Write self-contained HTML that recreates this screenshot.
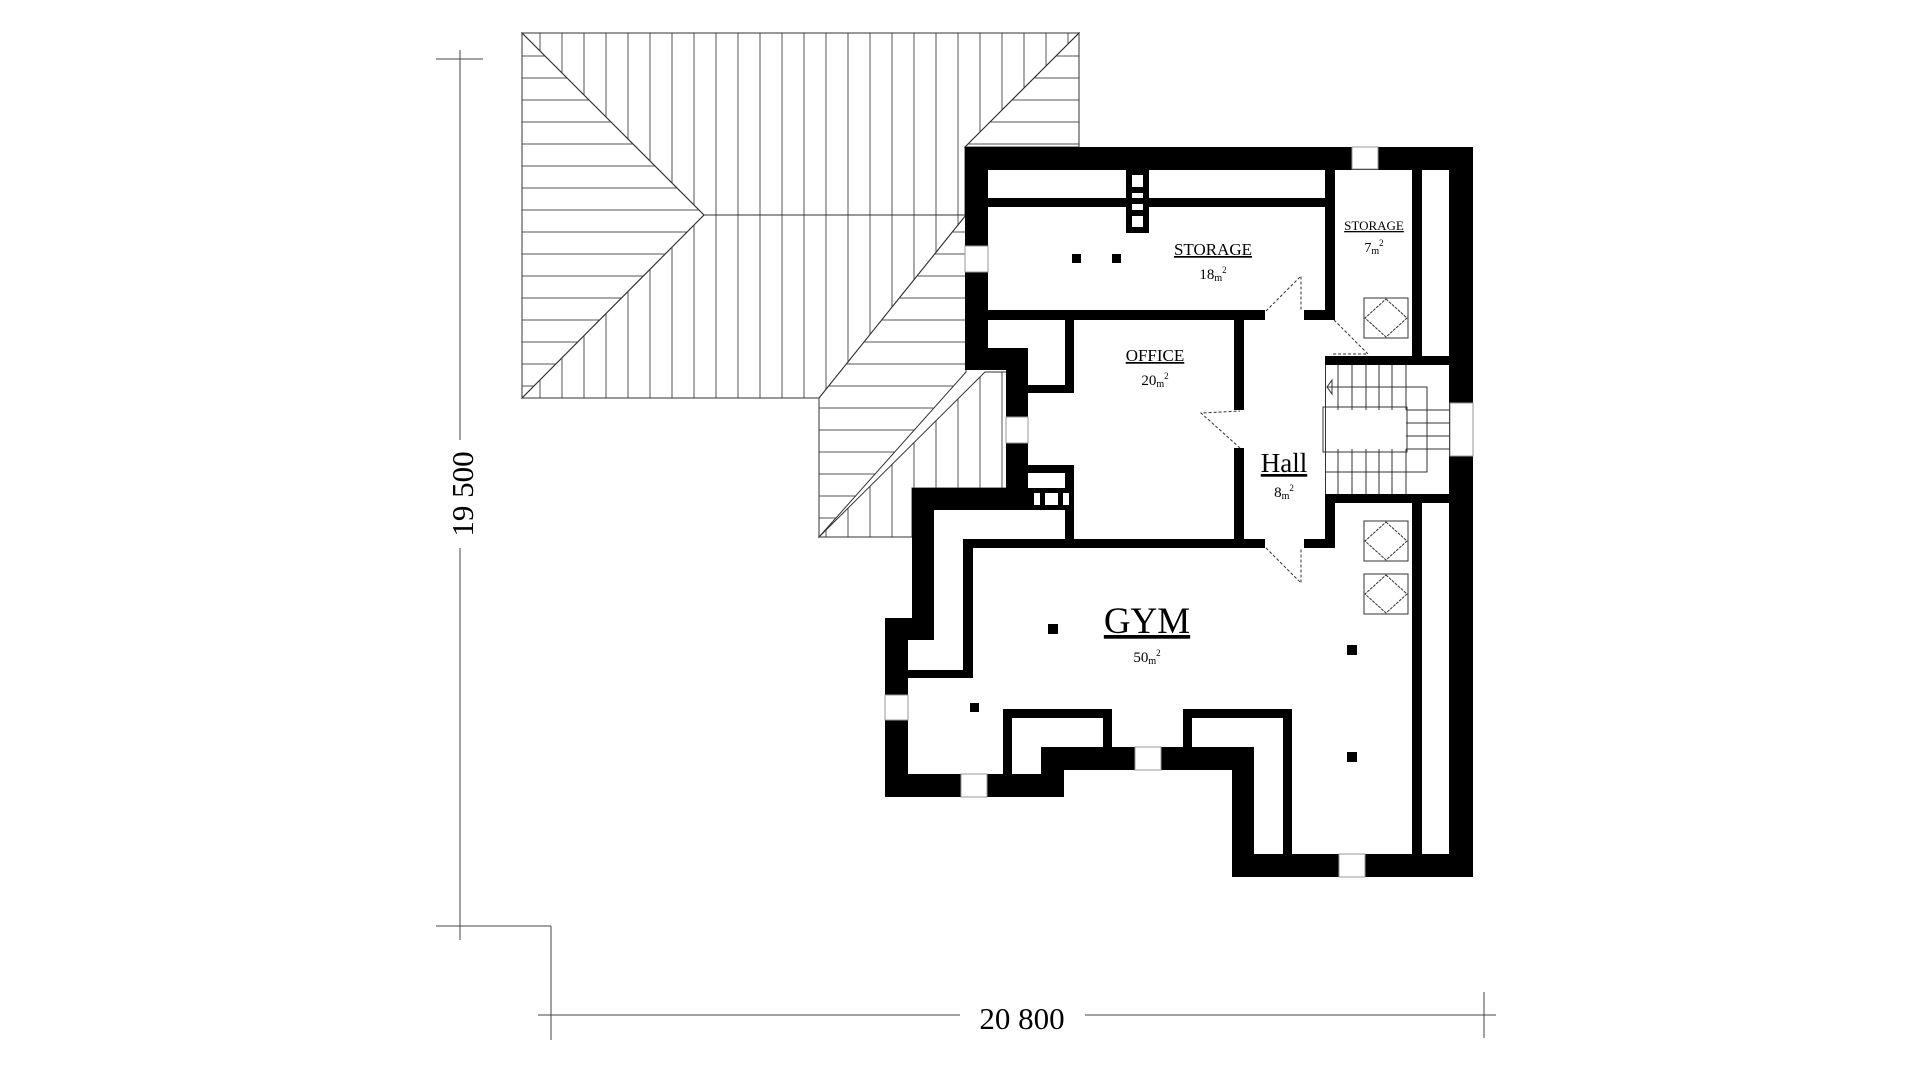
<!DOCTYPE html>
<html><head><meta charset="utf-8"><style>
html,body{margin:0;padding:0;background:#fff;}
svg{display:block;}
text{font-family:"Liberation Serif",serif;fill:#000;}
</style></head><body>
<svg width="1920" height="1080" viewBox="0 0 1920 1080" xmlns="http://www.w3.org/2000/svg">
<defs>
<pattern id="vh" width="22" height="22" patternUnits="userSpaceOnUse" x="1" y="0"><line x1="11" y1="0" x2="11" y2="22" stroke="#555" stroke-width="1"/></pattern>
<pattern id="hh" width="22" height="22" patternUnits="userSpaceOnUse" x="0" y="1"><line x1="0" y1="11" x2="22" y2="11" stroke="#555" stroke-width="1"/></pattern>
</defs>
<g stroke="#333" stroke-width="1">
<polygon points="522,33 1079,33 965,147 965,215 704,215" fill="url(#vh)"/>
<polygon points="1079,33 1079,147 965,147" fill="url(#hh)"/>
<polygon points="522,33 704,215 522,398" fill="url(#hh)"/>
<polygon points="704,215 966,215 819,398 522,398" fill="url(#vh)"/>
<polygon points="966,215 966,372 819,537 819,398" fill="url(#hh)"/>
<polygon points="985,372 1007,372 1007,488 912,488 912,537 819,537" fill="url(#vh)"/>
</g>
<g stroke="#444" stroke-width="1" fill="none">
<line x1="460" y1="50" x2="460" y2="440"/>
<line x1="460" y1="548" x2="460" y2="940"/>
<line x1="436" y1="59" x2="483" y2="59"/>
<line x1="436" y1="926" x2="551" y2="926"/>
<line x1="551" y1="926" x2="551" y2="1040"/>
<line x1="538" y1="1015" x2="960" y2="1015"/>
<line x1="1085" y1="1015" x2="1496" y2="1015"/>
<line x1="1484" y1="992" x2="1484" y2="1038"/>
</g>
<text x="0" y="0" font-size="31" text-anchor="middle" transform="translate(473,494) rotate(-90)">19 500</text>
<text x="1022" y="1029" font-size="31" text-anchor="middle">20 800</text>
<g fill="#000">
<rect x="965" y="147" width="508" height="23"/>
<rect x="965" y="147" width="23" height="223"/>
<rect x="965" y="348" width="63" height="22"/>
<rect x="1006" y="348" width="22" height="162"/>
<rect x="912" y="488" width="162" height="22"/>
<rect x="912" y="488" width="22" height="152"/>
<rect x="885" y="618" width="49" height="22"/>
<rect x="885" y="618" width="23" height="179"/>
<rect x="885" y="774" width="179" height="23"/>
<rect x="1041" y="747" width="213" height="23"/>
<rect x="1041" y="747" width="23" height="50"/>
<rect x="1232" y="747" width="22" height="130"/>
<rect x="1232" y="854" width="241" height="23"/>
<rect x="1449" y="147" width="24" height="730"/>
<rect x="988" y="198" width="337" height="9"/>
<rect x="1325" y="170" width="10" height="150"/>
<rect x="988" y="310" width="277" height="10"/>
<rect x="1304" y="310" width="31" height="10"/>
<rect x="1412" y="170" width="10" height="187"/>
<rect x="1325" y="356" width="124" height="9"/>
<rect x="1325" y="494" width="124" height="9"/>
<rect x="1412" y="494" width="10" height="360"/>
<rect x="1325" y="494" width="10" height="54"/>
<rect x="1065" y="320" width="9" height="73"/>
<rect x="1028" y="385" width="46" height="8"/>
<rect x="1028" y="465" width="46" height="8"/>
<rect x="1065" y="465" width="9" height="83"/>
<rect x="1234" y="320" width="10" height="90"/>
<rect x="1234" y="448" width="10" height="92"/>
<rect x="963" y="539" width="302" height="9"/>
<rect x="1304" y="539" width="31" height="9"/>
<rect x="963" y="539" width="10" height="139"/>
<rect x="908" y="670" width="65" height="8"/>
<rect x="1003" y="709" width="109" height="9"/>
<rect x="1003" y="709" width="9" height="65"/>
<rect x="1103" y="709" width="9" height="38"/>
<rect x="1183" y="709" width="109" height="9"/>
<rect x="1183" y="709" width="9" height="38"/>
<rect x="1283" y="709" width="9" height="145"/>
<rect x="1126" y="147" width="23" height="86"/>
<rect x="1072" y="254" width="9" height="9"/>
<rect x="1112" y="254" width="9" height="9"/>
<rect x="1048" y="624" width="10" height="10"/>
<rect x="970" y="703" width="9" height="9"/>
<rect x="1347" y="645" width="10" height="10"/>
<rect x="1347" y="752" width="10" height="10"/>
</g>
<g fill="#fff">
<rect x="1132" y="175" width="11" height="12"/>
<rect x="1132" y="193" width="11" height="5"/>
<rect x="1132" y="204" width="11" height="6"/>
<rect x="1132" y="216" width="11" height="11"/>
<rect x="1034" y="493" width="6" height="12"/>
<rect x="1045" y="493" width="13" height="12"/>
<rect x="1063" y="493" width="6" height="12"/>
</g>
<g fill="#fff" stroke="#999" stroke-width="1">
<rect x="965" y="246" width="23" height="26"/>
<rect x="1006" y="417" width="22" height="26"/>
<rect x="1352" y="147" width="26" height="22"/>
<rect x="1450" y="403" width="23" height="53"/>
<rect x="885" y="695" width="23" height="25"/>
<rect x="961" y="774" width="26" height="23"/>
<rect x="1135" y="747" width="26" height="23"/>
<rect x="1339" y="854" width="26" height="23"/>
</g>
<g stroke="#333" stroke-width="1" fill="none">
<line x1="1325.5" y1="365" x2="1325.5" y2="494"/>
<path d="M1338 365V410M1352 365V410M1366 365V410M1379 365V410M1392 365V410M1406 365V410"/>
<path d="M1338 449V494M1352 449V494M1366 449V494M1379 449V494M1392 449V494M1406 449V494"/>
<rect x="1323" y="407" width="84" height="45"/>
<path d="M1406 410H1450M1406 423H1450M1406 436H1450M1406 449H1450"/>
<path d="M1327 387H1427V472H1326"/>
<path d="M1332 380L1327 387L1332 394Z"/>
</g>
<g stroke="#333" stroke-width="1" fill="none">
<rect x="1364" y="298" width="44" height="40"/><path d="M1386 299L1407 318L1386 337L1365 318Z" stroke-dasharray="3,1"/>
<rect x="1364" y="521" width="44" height="40"/><path d="M1386 522L1407 541L1386 560L1365 541Z" stroke-dasharray="3,1"/>
<rect x="1364" y="574" width="44" height="40"/><path d="M1386 575L1407 594L1386 613L1365 594Z" stroke-dasharray="3,1"/>
</g>
<g stroke="#333" stroke-width="1" fill="none">
<path d="M1266 311L1301 276V310" stroke-dasharray="3,2"/>
<path d="M1334 320L1368 354H1331" stroke-dasharray="3,2"/>
<path d="M1240 448L1201 413L1240 411" stroke-dasharray="3,2"/>
<path d="M1266 548L1301 583V548" stroke-dasharray="3,2"/>
</g>
<g text-anchor="middle">
<text x="1213" y="255" font-size="17" text-decoration="underline">STORAGE</text>
<text x="1213" y="279" font-size="15">18<tspan font-size="10" dy="2">m</tspan><tspan font-size="9" dy="-8">2</tspan></text>
<text x="1374" y="230" font-size="13" text-decoration="underline">STORAGE</text>
<text x="1374" y="252" font-size="14">7<tspan font-size="10" dy="2">m</tspan><tspan font-size="9" dy="-8">2</tspan></text>
<text x="1155" y="361" font-size="17" text-decoration="underline">OFFICE</text>
<text x="1155" y="385" font-size="15">20<tspan font-size="10" dy="2">m</tspan><tspan font-size="9" dy="-8">2</tspan></text>
<text x="1284" y="472" font-size="27" text-decoration="underline">Hall</text>
<text x="1284" y="497" font-size="15">8<tspan font-size="10" dy="2">m</tspan><tspan font-size="9" dy="-8">2</tspan></text>
<text x="1147" y="633" font-size="37" text-decoration="underline">GYM</text>
<text x="1147" y="662" font-size="15">50<tspan font-size="10" dy="2">m</tspan><tspan font-size="9" dy="-8">2</tspan></text>
</g>
</svg>
</body></html>
